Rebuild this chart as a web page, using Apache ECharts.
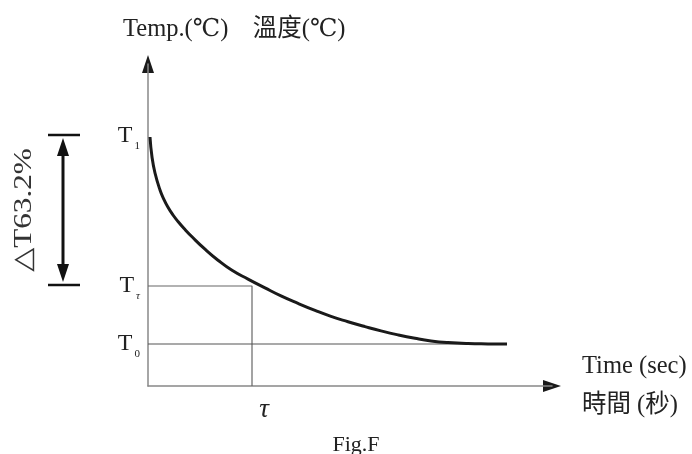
<!DOCTYPE html>
<html>
<head>
<meta charset="utf-8">
<script src="https://cdn.jsdelivr.net/npm/echarts@6/dist/echarts.min.js"></script>
<style>html,body{margin:0;padding:0;background:#fff}#c{width:692px;height:454px}</style>
</head>
<body>
<div id="c"></div>
<script>
// Decay curve (time units, temperature units)
var curveTime = [2, 4, 7, 12, 16, 20, 25, 30, 37, 44, 57, 70, 84, 100, 117, 133, 150, 167, 183, 200, 217, 233, 250, 267, 283, 300, 320, 340, 359];
var curveTemp = [249, 229, 213, 196, 186.4, 178.8, 171, 164.5, 156.5, 149.2, 136.8, 125.8, 115.7, 106.9, 98.1, 90.1, 82.6, 75.6, 69.6, 64.3, 59.4, 55.1, 51.1, 47.7, 45.1, 43.4, 42.4, 42.1, 42];
var T0 = 42, Ttau = 100, T1 = 250;
var tau = 104, tEnd = 359;
var yTickValues = [T0, Ttau, T1];
var yTickLabels = ['{T|T}{s|0}', '{T|T}{st|τ}', '{T|T}{s|1}'];
var xTickValues = [tau];
var xTickLabels = ['τ'];
var xMax = 404, yMax = 322;

var serif = "'Liberation Serif', 'DejaVu Serif', 'Noto Sans CJK TC'";
var chart = echarts.init(document.getElementById('c'));
var curve = curveTime.map(function (t, i) { return [t, curveTemp[i]]; });

chart.setOption({
  animation: false,
  backgroundColor: '#fff',
  title: [
    { text: 'Temp.(℃)    溫度(℃)', left: 118, top: 12,
      textStyle: { fontFamily: serif, fontSize: 24.5, fontWeight: 'normal', color: '#222' } },
    { text: 'Fig.F', left: 351, top: 429, textAlign: 'center',
      textStyle: { fontFamily: serif, fontSize: 22, fontWeight: 'normal', color: '#222' } }
  ],
  grid: { left: 148, right: 140, top: 64, bottom: 68 },
  xAxis: {
    type: 'value', min: 0, max: xMax,
    name: 'Time (sec)\n時間 (秒)', nameLocation: 'end', nameGap: 30,
    nameTextStyle: { fontFamily: serif, fontSize: 24.5, color: '#222', align: 'left', verticalAlign: 'middle', lineHeight: 39, padding: [6, 0, 0, 0] },
    axisLine: { lineStyle: { color: '#888', width: 1.5 } },
    axisTick: { show: false },
    splitLine: { show: false },
    axisLabel: {
      customValues: xTickValues, margin: 10, padding: [0, 0, 0, 24],
      formatter: function (v) { return xTickLabels[xTickValues.indexOf(v)]; },
      fontFamily: serif, fontSize: 27, fontStyle: 'italic', color: '#222'
    }
  },
  yAxis: {
    type: 'value', min: 0, max: yMax,
    axisLine: { lineStyle: { color: '#888', width: 1.5 } },
    axisTick: { show: false },
    splitLine: { show: false },
    axisLabel: {
      customValues: yTickValues, margin: 8,
      formatter: function (v) { return yTickLabels[yTickValues.indexOf(v)]; },
      rich: {
        T: { fontFamily: serif, fontSize: 24, color: '#222' },
        s: { fontFamily: serif, fontSize: 11, color: '#222', verticalAlign: 'bottom', padding: [0, 0, -4, 2] },
        st: { fontFamily: serif, fontSize: 11, fontStyle: 'italic', color: '#222', verticalAlign: 'bottom', padding: [0, 0, -4, 2] }
      }
    }
  },
  series: [
    { type: 'line', data: [[0, Ttau], [tau, Ttau], [tau, 0]], symbol: 'none',
      lineStyle: { color: '#666', width: 1.2 }, silent: true },
    { type: 'line', data: [[0, T0], [tEnd, T0]], symbol: 'none',
      lineStyle: { color: '#555', width: 1.2 }, silent: true },
    { type: 'line', data: curve, smooth: true, symbol: 'none',
      lineStyle: { color: '#1a1a1a', width: 3 }, silent: true }
  ]
});

// Axis arrowheads and ΔT63.2% bracket, positioned from the scales
var yTop = chart.convertToPixel({ yAxisIndex: 0 }, T1) - 1;
var yBot = chart.convertToPixel({ yAxisIndex: 0 }, Ttau) - 1;
var ax = chart.convertToPixel({ xAxisIndex: 0 }, 0);
var ay = chart.convertToPixel({ yAxisIndex: 0 }, 0);
var xEnd = chart.convertToPixel({ xAxisIndex: 0 }, xMax);
var yEnd = chart.convertToPixel({ yAxisIndex: 0 }, yMax);
var bx = 63;
chart.setOption({
  graphic: [
    { type: 'polygon', shape: { points: [[ax, yEnd - 9], [ax - 6, yEnd + 9], [ax + 6, yEnd + 9]] }, style: { fill: '#1a1a1a' } },
    { type: 'polygon', shape: { points: [[xEnd + 9, ay], [xEnd - 9, ay - 6], [xEnd - 9, ay + 6]] }, style: { fill: '#1a1a1a' } },
    { type: 'line', shape: { x1: 48, y1: yTop, x2: 80, y2: yTop }, style: { stroke: '#111', lineWidth: 2.5 } },
    { type: 'line', shape: { x1: 48, y1: yBot, x2: 80, y2: yBot }, style: { stroke: '#111', lineWidth: 2.5 } },
    { type: 'line', shape: { x1: bx, y1: yTop + 14, x2: bx, y2: yBot - 14 }, style: { stroke: '#111', lineWidth: 3 } },
    { type: 'polygon', shape: { points: [[bx, yTop + 3], [bx - 6, yTop + 21], [bx + 6, yTop + 21]] }, style: { fill: '#111' } },
    { type: 'polygon', shape: { points: [[bx, yBot - 3], [bx - 6, yBot - 21], [bx + 6, yBot - 21]] }, style: { fill: '#111' } },
    { type: 'text', x: 24, y: (yTop + yBot) / 2, rotation: Math.PI / 2, scaleX: 1.2,
      style: { text: '△T63.2%', fontFamily: serif, fontSize: 26, fill: '#333', align: 'center', verticalAlign: 'middle' } }
  ]
});
</script>
</body>
</html>
